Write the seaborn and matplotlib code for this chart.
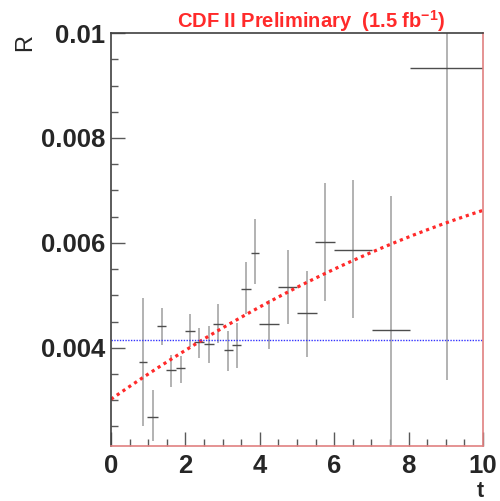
import numpy as np
import pandas as pd
import matplotlib
matplotlib.use("Agg")
import matplotlib.pyplot as plt
import seaborn as sns
from matplotlib.ticker import MultipleLocator

# measured points (t, R) with errors
t_vals = [0.87, 1.12, 1.36, 1.61, 1.87, 2.12, 2.37, 2.63, 2.87, 3.15,
          3.38, 3.63, 3.87, 4.25, 4.75, 5.26, 5.75, 6.51, 7.52, 9.04]
t_err = [0.11, 0.14, 0.12, 0.13, 0.13, 0.13, 0.13, 0.13, 0.13, 0.12,
         0.12, 0.13, 0.12, 0.27, 0.26, 0.27, 0.27, 0.51, 0.51, 1.0]
r_vals = [0.00373, 0.00269, 0.00441, 0.00357, 0.00362, 0.00432, 0.00411, 0.00408, 0.00446, 0.00396,
          0.00406, 0.00513, 0.00581, 0.00445, 0.00516, 0.00466, 0.00602, 0.00587, 0.00433, 0.00933]
r_lo = [0.00250, 0.00222, 0.00406, 0.00325, 0.00333, 0.00401, 0.00380, 0.00371, 0.00410, 0.00356,
        0.00361, 0.00465, 0.00521, 0.00397, 0.00445, 0.00382, 0.00490, 0.00457, 0.00180, 0.00338]
r_hi = [0.00495, 0.00319, 0.00476, 0.00386, 0.00384, 0.00464, 0.00438, 0.00441, 0.00483, 0.00432,
        0.00448, 0.00564, 0.00645, 0.00492, 0.00586, 0.00547, 0.00714, 0.00719, 0.00689, 0.0120]

# fitted curves
quad_fit = [-0.0000133, 0.000493, 0.00302]   # c2, c1, c0
flat_fit = 0.00414

x_ticks = [0, 2, 4, 6, 8, 10]
y_ticks = [0.004, 0.006, 0.008, 0.01]
y_tick_labels = ["0.004", "0.006", "0.008", "0.01"]

sns.set_style("white")
plt.rcParams['font.family'] = ['Liberation Sans', 'DejaVu Sans']
plt.rcParams['mathtext.fontset'] = 'custom'
plt.rcParams['mathtext.rm'] = 'Liberation Sans'
plt.rcParams['mathtext.bf'] = 'Liberation Sans:bold'

fig = plt.figure(figsize=(5.0, 5.01), dpi=100)
ax = fig.add_axes([0.222, 0.110, 0.744, 0.824])

df = pd.DataFrame({"t": t_vals, "R": r_vals})
yerr = np.array([np.array(r_vals) - np.array(r_lo), np.array(r_hi) - np.array(r_vals)])

# vertical error bars (light grey) and horizontal bars (darker)
ax.errorbar(df["t"], df["R"], yerr=yerr, fmt='none', ecolor='0.62', elinewidth=1.1, capsize=0)
ax.errorbar(df["t"], df["R"], xerr=t_err, fmt='none', ecolor='0.3', elinewidth=1.0, capsize=0)

fit_x = np.linspace(0, 10, 200)
fit_df = pd.DataFrame({"t": fit_x, "R": np.polyval(quad_fit, fit_x)})
sns.lineplot(data=fit_df, x="t", y="R", ax=ax, color='#ff2a2a', linewidth=2.3,
             linestyle=(0, (1, 1.2)))
ax.axhline(flat_fit, color='#3333ff', linewidth=1.0, linestyle=(0, (1, 1)))

ax.set_xlim(0, 10)
ax.set_ylim(0.00213, 0.01)
ax.set_xticks(x_ticks)
ax.set_yticks(y_ticks)
ax.set_yticklabels(y_tick_labels)
ax.xaxis.set_minor_locator(MultipleLocator(0.5))
ax.yaxis.set_minor_locator(MultipleLocator(0.0005))
ax.tick_params(which='both', bottom=True, left=True, top=False, right=False)
ax.tick_params(which='major', direction='in', length=10, width=1, labelsize=18.5, color='0.35')
ax.tick_params(which='minor', direction='in', length=5, width=1, color='0.35')
ax.tick_params(axis='x', which='major', pad=6)
ax.tick_params(axis='y', which='major', pad=4)
for lab in ax.get_xticklabels() + ax.get_yticklabels():
    lab.set_fontweight('bold')

ax.set_xlabel("")
ax.set_ylabel("")
for side in ['top', 'left']:
    ax.spines[side].set_color('0.25')
    ax.spines[side].set_linewidth(1.2)
for side in ['bottom', 'right']:
    ax.spines[side].set_color('#e08080')
    ax.spines[side].set_linewidth(1.2)

fig.text(0.050, 0.915, "R", rotation=90, fontsize=17, ha='center', va='center')
fig.text(0.960, 0.019, "t", fontsize=15.5, fontweight='bold', ha='center', va='center')
fig.text(0.622, 0.958, r"CDF II Preliminary  (1.5 fb$^{\mathbf{-1}}$)", color='#ff2a2a',
         fontsize=14.5, fontweight='bold', ha='center', va='center')

fig.savefig("out.png", dpi=100)
